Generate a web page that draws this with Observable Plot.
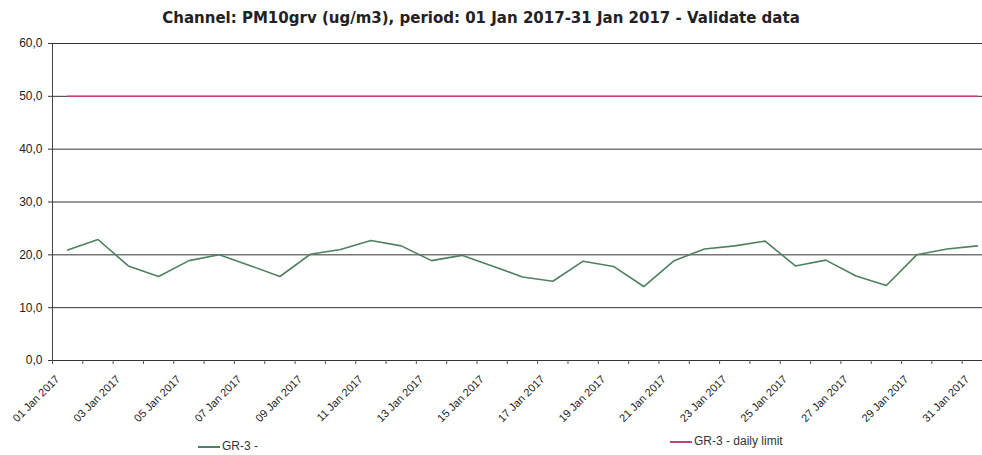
<!DOCTYPE html>
<html>
<head>
<meta charset="utf-8">
<script src="https://cdn.jsdelivr.net/npm/d3@7"></script>
<script src="https://cdn.jsdelivr.net/npm/@observablehq/plot@0.6"></script>
<style>
  body { margin: 0; background: #fff; }
  #wrap { position: relative; width: 982px; height: 455px; overflow: hidden; }
  #title { position: absolute; left: 0; top: 0; width: 962px; height: 30px; line-height: 36px; text-align: center;
           font-family: "DejaVu Sans", Verdana, sans-serif; font-weight: bold; font-size: 15px; color: #222; }
  #chart { position: absolute; left: 0; top: 30px; }
  .leg { position: absolute; font-family: "Liberation Sans", Arial, sans-serif; font-size: 12px; line-height: 14px; color: #333; white-space: nowrap; }
  .leg span.sw { display: inline-block; width: 22px; height: 2px; vertical-align: middle; margin-right: 2px; }
</style>
</head>
<body>
<div id="wrap">
  <div id="title">Channel: PM10grv (ug/m3), period: 01 Jan 2017-31 Jan 2017 - Validate data</div>
  <div id="chart"></div>
  <div class="leg" style="left:198px; top:439px;"><span class="sw" style="background:#4f8060"></span>GR-3 -</div>
  <div class="leg" style="left:670px; top:434px;"><span class="sw" style="background:#c8407a"></span>GR-3 - daily limit</div>
</div>
<script>
const days = [1,2,3,4,5,6,7,8,9,10,11,12,13,14,15,16,17,18,19,20,21,22,23,24,25,26,27,28,29,30,31];
const pm10 = [20.9,22.9,17.9,15.9,18.9,20.0,18.0,15.9,20.1,21.0,22.7,21.7,18.9,19.9,17.9,15.8,15.0,18.8,17.8,14.0,18.9,21.1,21.7,22.6,17.9,19.0,16.0,14.2,20.0,21.1,21.7];
const dailyLimit = [50,50,50,50,50,50,50,50,50,50,50,50,50,50,50,50,50,50,50,50,50,50,50,50,50,50,50,50,50,50,50];
const labelDays = [1,3,5,7,9,11,13,15,17,19,21,23,25,27,29,31];
const tickLabels = ["01 Jan 2017","03 Jan 2017","05 Jan 2017","07 Jan 2017","09 Jan 2017","11 Jan 2017","13 Jan 2017","15 Jan 2017","17 Jan 2017","19 Jan 2017","21 Jan 2017","23 Jan 2017","25 Jan 2017","27 Jan 2017","29 Jan 2017","31 Jan 2017"];
const yTicks = [0,10,20,30,40,50,60];

const rows = days.map((d, i) => ({day: d, value: pm10[i], limit: dailyLimit[i]}));
const boundaries = days.map(d => d - 0.5).concat([days[days.length - 1] + 0.5]);
const labelOf = new Map(labelDays.map((d, i) => [d, tickLabels[i]]));

const chart = Plot.plot({
  width: 982,
  height: 425,
  marginTop: 13,
  marginBottom: 95,
  marginLeft: 52,
  marginRight: -10,
  style: {fontFamily: "'Liberation Sans', Arial, sans-serif", fontSize: "11px", color: "#222", background: "transparent", overflow: "visible"},
  x: {domain: [0.5, 31.5], axis: null},
  y: {domain: [0, 60], axis: null},
  marks: [
    Plot.ruleY(yTicks, {stroke: "#333", strokeWidth: 1}),
    Plot.axisY({ticks: yTicks, tickSize: 4, tickPadding: 6, stroke: "#333", label: null, tickFormat: d => d.toFixed(1).replace(".", ","), fontSize: 12}),
    Plot.ruleX([0.5], {stroke: "#444", strokeWidth: 1}),
    Plot.axisX({ticks: boundaries, tickSize: 4, tickFormat: () => "", label: null, stroke: "#555"}),
    Plot.axisX({ticks: labelDays, tickSize: 0, tickRotate: -45, textAnchor: "end", label: null, tickFormat: d => labelOf.get(d), fontSize: 11, dx: -10, dy: 5}),
    Plot.line(rows, {x: "day", y: "limit", stroke: "#c8407a", strokeWidth: 1.5}),
    Plot.line(rows, {x: "day", y: "value", stroke: "#4f8060", strokeWidth: 1.6})
  ]
});
document.getElementById("chart").appendChild(chart);
</script>
</body>
</html>
